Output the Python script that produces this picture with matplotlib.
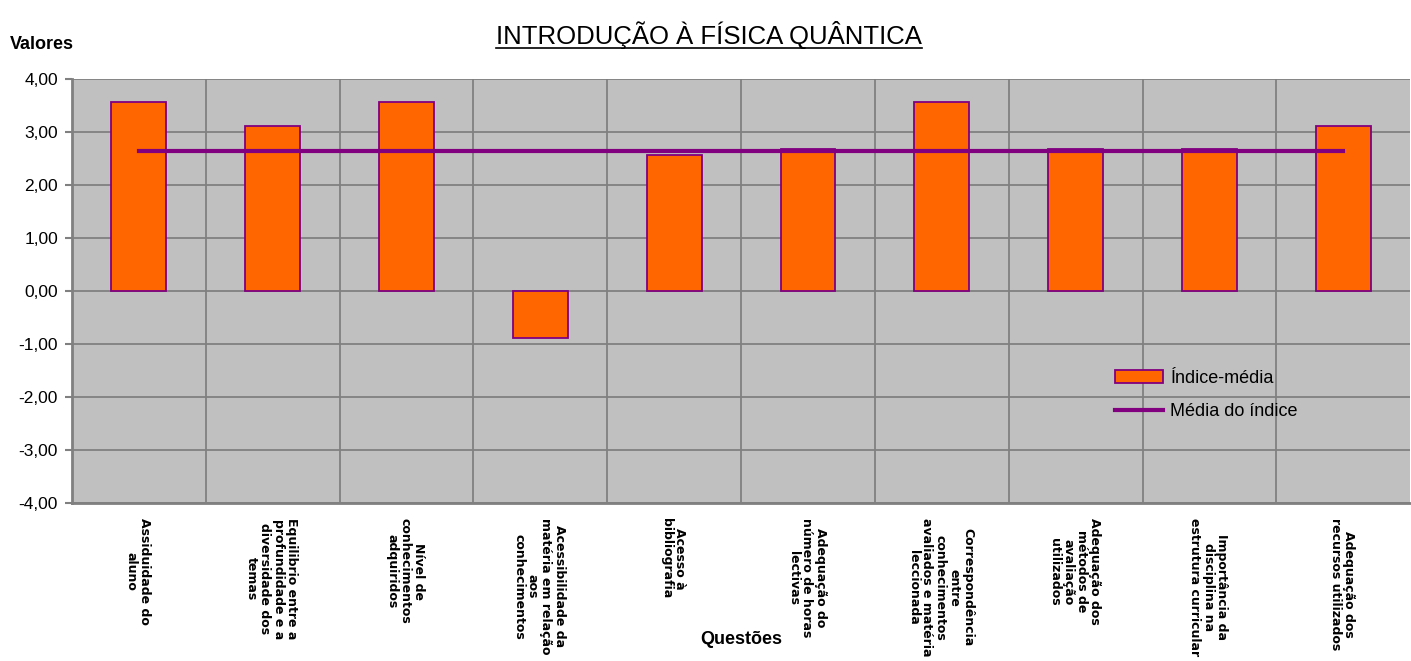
import matplotlib.pyplot as plt
from matplotlib.lines import Line2D
import numpy as np

plt.rcParams['font.family'] = ['Liberation Sans', 'DejaVu Sans']

questoes = [
    "Assiduidade do\naluno",
    "Equilibrio entre a\nprofundidade e a\ndiversidade dos\ntemas",
    "Nível de\nconhecimentos\nadquiridos",
    "Acessibilidade da\nmatéria em relação\naos\nconhecimentos",
    "Acesso à\nbibliografia",
    "Adequação do\nnúmero de horas\nlectivas",
    "Correspondência\nentre\nconhecimentos\navaliados e matéria\nleccionada",
    "Adequação dos\nmétodos de\navaliação\nutilizados",
    "Importância da\ndisciplina na\nestrutura curricular",
    "Adequação dos\nrecursos utilizados",
]
indice_media = [3.57, 3.11, 3.57, -0.89, 2.57, 2.68, 3.57, 2.68, 2.68, 3.11]
media_indice = [2.64] * 10
y_ticks = [-4, -3, -2, -1, 0, 1, 2, 3, 4]

fig = plt.figure(figsize=(14.11, 6.61), dpi=100)
ax = fig.add_axes([0.051, 0.239, 0.9485, 0.6415])
ax.set_facecolor('#c0c0c0')

x = np.arange(len(questoes))
bars = ax.bar(x, indice_media, width=0.41, color='#ff6600', edgecolor='#800080',
              linewidth=1.3, label='Índice-média', zorder=3)
line, = ax.plot(x, media_indice, color='#800080', linewidth=3, label='Média do índice', zorder=4)

ax.set_xlim(-0.5, len(questoes) - 0.5)
ax.set_ylim(-4, 4)
ax.set_yticks(y_ticks)
ax.set_yticklabels([f"{v:.2f}".replace('.', ',') for v in y_ticks], fontsize=12.5)
for v in y_ticks:
    ax.axhline(v, color='#808080', linewidth=1.3, zorder=1)
for b in np.arange(0.5, len(questoes) - 0.5, 1):
    ax.axvline(b, color='#808080', linewidth=1.3, zorder=1)

ax.set_xticks(x)
ax.set_xticklabels([])
ax.tick_params(axis='x', length=0)
ax.tick_params(axis='y', length=5, width=1.5, color='#808080', pad=5)
for side in ['top', 'right']:
    ax.spines[side].set_visible(False)
for side in ['left', 'bottom']:
    ax.spines[side].set_color('#808080')
    ax.spines[side].set_linewidth(2)

# category labels, rotated and reading downward
for xi, lab in zip(x, questoes):
    ax.annotate(lab, xy=(xi, 0), xycoords=('data', 'axes fraction'),
                xytext=(-1, -11), textcoords='offset points',
                rotation=270, rotation_mode='anchor', ha='left', va='center',
                multialignment='center', fontsize=9, fontweight='bold',
                family='DejaVu Sans', linespacing=1.05)

fig.text(0.525, 0.02, 'Questões', ha='center', va='bottom', fontsize=13, fontweight='bold')
fig.text(0.007, 0.933, 'Valores', ha='left', va='center', fontsize=13, fontweight='bold')

title = fig.text(0.5025, 0.947, 'INTRODUÇÃO À FÍSICA QUÂNTICA', ha='center', va='center', fontsize=18.5)
fig.canvas.draw()
bb = title.get_window_extent().transformed(fig.transFigure.inverted())
fig.add_artist(Line2D([bb.x0, bb.x1], [bb.y0 + 0.002, bb.y0 + 0.002], color='black', linewidth=1.2))

ax.legend([bars, line], ['Índice-média', 'Média do índice'],
          loc='upper left', bbox_to_anchor=(0.779, 0.314), frameon=False, fontsize=13,
          handlelength=2.7, handletextpad=0.4, labelspacing=0.9,
          borderaxespad=0, borderpad=0)

fig.savefig('out.png', dpi=100)
